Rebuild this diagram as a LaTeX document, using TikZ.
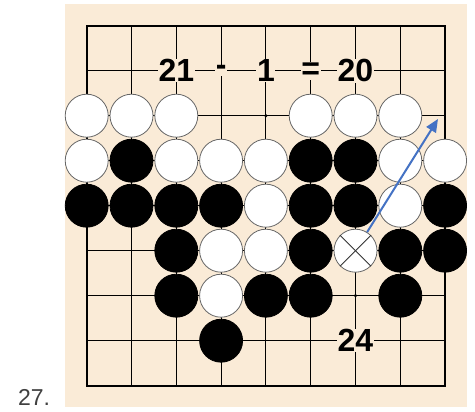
\documentclass[tikz,border=0pt]{standalone}
\usepackage{fontspec}
\setmainfont{Liberation Sans}
\usetikzlibrary{arrows.meta}
\definecolor{boardbg}{RGB}{250,235,215}
\definecolor{arrowblue}{RGB}{68,114,196}
\definecolor{labelgray}{RGB}{64,64,64}
\begin{document}
\begin{tikzpicture}[x=1pt,y=-1pt,
  wstone/.style={circle,draw=gray!80!black,line width=0.8pt,fill=white,minimum size=43pt,inner sep=0pt},
  bstone/.style={circle,draw=black,line width=0.8pt,fill=black,minimum size=43pt,inner sep=0pt},
  num/.style={font=\fontsize{32}{32}\selectfont\bfseries,fill=boardbg,inner sep=0.6pt},
  gridline/.style={line width=1pt,black},
  borderline/.style={line width=2pt,black},
  starpt/.style={circle,fill=black,minimum size=3.5pt,inner sep=0pt},
  xmark/.style={line width=0.8pt,black!80},
  movearrow/.style={arrowblue,line width=2pt,-{Triangle[length=13pt,width=11pt]}}
]
\useasboundingbox (0,0) rectangle (475,412);
\fill[boardbg] (65,4) rectangle (466.7,406.5);
\node[font=\fontsize{23}{23}\selectfont,text=labelgray,inner sep=0pt] (label) at (34,397) {27.};
\begin{scope}[shift={(86.7,25.7)},x=44.8pt,y=-45pt]
  \foreach \i in {1,...,7} {
    \draw[gridline] (\i,0) -- (\i,8);
    \draw[gridline] (0,\i) -- (8,\i);
  }
  \draw[borderline] (0,0) rectangle (8,8);
  \node[starpt] (s1) at (4,2) {};
  \node[starpt] (s2) at (6,6) {};
  % text
  \node[num] (t21) at (2,1) {21};
  \node[num] (tminus) at (3,1) {-};
  \node[num] (tone) at (4,1) {1};
  \node[num] (teq) at (5,1) {=};
  \node[num] (t20) at (6,1) {20};
  \node[num] (t24) at (6,7) {24};
  % row 2
  \foreach \c in {0,1,2,5,6,7} \node[wstone] (w\c-2) at (\c,2) {};
  % row 3
  \foreach \c in {0,2,3,4,7,8} \node[wstone] (w\c-3) at (\c,3) {};
  \foreach \c in {1,5,6} \node[bstone] (b\c-3) at (\c,3) {};
  % row 4
  \foreach \c in {4,7} \node[wstone] (w\c-4) at (\c,4) {};
  \foreach \c in {0,1,2,3,5,6,8} \node[bstone] (b\c-4) at (\c,4) {};
  % row 5
  \foreach \c in {3,4} \node[wstone] (w\c-5) at (\c,5) {};
  \foreach \c in {2,5,7,8} \node[bstone] (b\c-5) at (\c,5) {};
  \node[wstone] (xs) at (6,5) {};
  % row 6
  \node[wstone] (w3-6) at (3,6) {};
  \foreach \c in {2,4,5,7} \node[bstone] (b\c-6) at (\c,6) {};
  % row 7
  \node[bstone] (b3-7) at (3,7) {};
\end{scope}
\draw[xmark] (xs.north east) -- (xs.south west);
\draw[xmark] (xs.north west) -- (xs.south east);
\coordinate (tip) at (438,119);
\draw[movearrow] (xs.58) -- (tip);
\end{tikzpicture}
\end{document}
